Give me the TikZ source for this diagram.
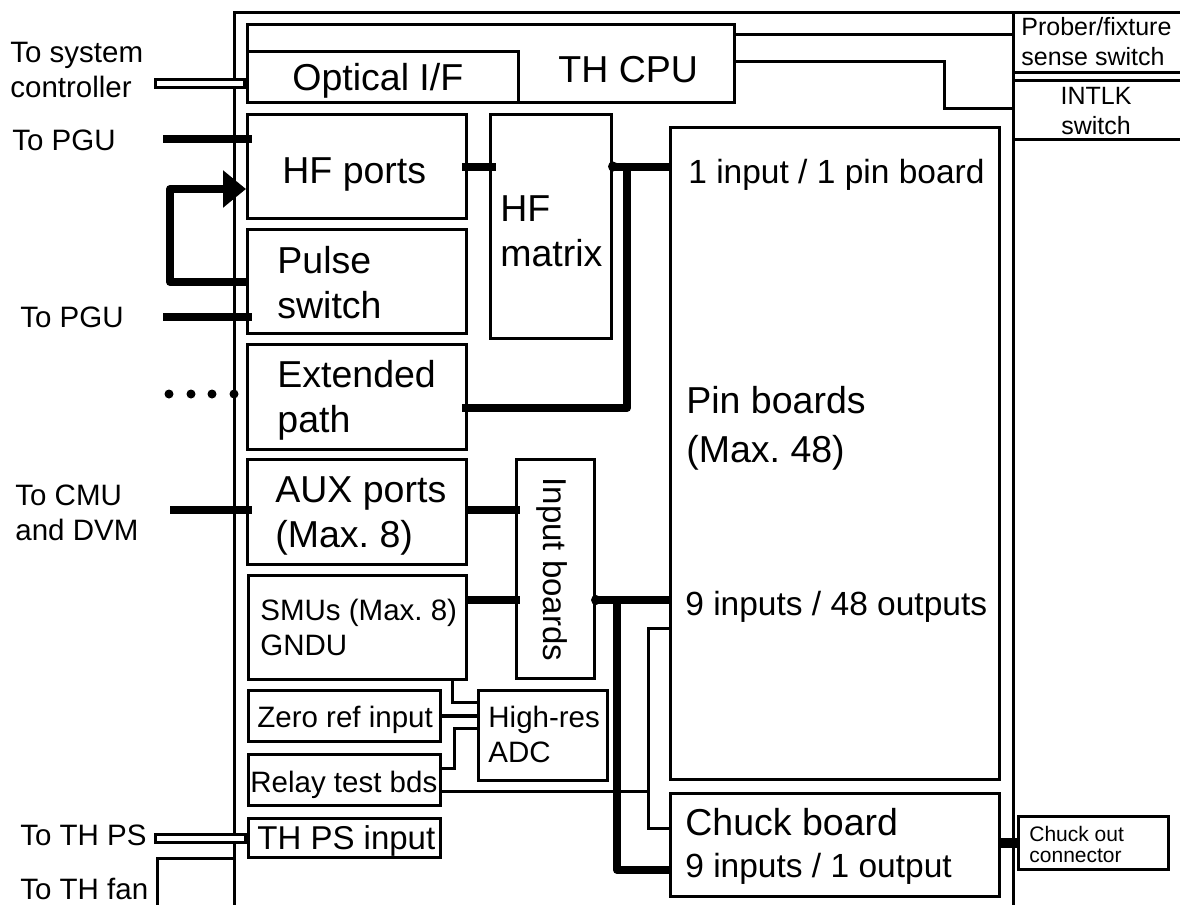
\documentclass[tikz,border=0pt]{standalone}
\usepackage{fontspec}
\setmainfont{Liberation Sans}
\usetikzlibrary{arrows.meta, calc}
\frenchspacing
\newcommand{\fbig}{\fontsize{18.75}{22.5}\selectfont}
\newcommand{\fpin}{\fontsize{16.75}{20}\selectfont}
\newcommand{\fmed}{\fontsize{14.75}{17.5}\selectfont}
\newcommand{\fsml}{\fontsize{12.5}{15}\selectfont}
\newcommand{\ftny}{\fontsize{10.5}{10.5}\selectfont}

\begin{document}
\begin{tikzpicture}[x=0.5pt,y=-0.5pt,>=Stealth,
    box/.style 2 args={draw,line width=1.5pt,inner sep=0pt,anchor=north west,
      minimum width=#1*0.5pt,minimum height=#2*0.5pt},
    hol/.style={draw,fill=white,line width=1.5pt,inner sep=0pt,anchor=east,
      minimum height=4pt},
    thk/.style={line width=4pt,line join=round},
    thn/.style={line width=1.5pt},
    txt/.style={inner sep=0pt,anchor=base west},
    txtm/.style={inner sep=0pt,anchor=north west,align=left}]
  \useasboundingbox (0,0) rectangle (1180,905);

  % test head frame, runs off the bottom
  \node[box={779}{930}] (frame) at (233,11) {};
  \node[box={172}{60}] (prober) at (1012,11) {};
  \node[box={172}{59}] (intlk) at (1012,79) {};

  % blocks
  \node[box={487}{78}] (thcpu) at (246,23) {};
  \node[box={271}{51}] (optical) at (246,50) {};
  \node[box={219}{104}] (hfports) at (246,113) {};
  \node[box={219}{104}] (pulse) at (246,228) {};
  \node[box={121}{224}] (hfmatrix) at (489,113) {};
  \node[box={219}{105}] (extpath) at (246,343) {};
  \node[box={219}{105}] (aux) at (246,458) {};
  \node[box={78}{219}] (inputb) at (515,458) {};
  \node[box={218}{104}] (smus) at (247,574) {};
  \node[box={192}{51}] (zeroref) at (247,689) {};
  \node[box={129}{90}] (adc) at (477,689) {};
  \node[box={192}{51}] (relay) at (247,753) {};
  \node[box={192}{39}] (thps) at (247,817) {};
  \node[box={329}{652}] (pinb) at (669,126) {};
  \node[box={329}{103}] (chuck) at (669,792) {};
  \node[box={150}{53}] (chuckout) at (1017,815) {};

  % hollow cables
  \node[hol,minimum width=44.5pt] (sysbar) at ($(optical.west)+(0,6)$) {};
  \node[hol,minimum width=45pt] (psbar) at (thps.west) {};

  % free ends
  \coordinate (pgua) at (163,139);
  \coordinate (pgub) at (163,317);
  \coordinate (cmu) at (170,510);
  \coordinate (fan) at (157,915);
  \coordinate (tap) at (648,791);

  % HF paths
  \draw[thk,shorten >=-3pt] (pgua) -- (pgua -| hfports.west);
  \draw[thk,shorten >=-3pt] (pgub) -- (pgub -| pulse.west);
  \draw[thk,-{Triangle[length=11.5pt,width=18pt]}]
    (pulse.west |- 0,282) -- ++(-76,0) |- (hfports.west |- 0,189);
  \draw[thk,shorten <=-3pt,shorten >=-3.5pt]
    (hfports.east) -- (hfports.east -| hfmatrix.west);
  \coordinate (hfm) at (hfmatrix.east |- hfports.east);
  \fill (hfm) circle (2.5pt);
  \draw[thk] (hfm) -- (hfm -| pinb.west);
  \draw[thk,shorten >=-3pt] (hfm -| 627,0) |- (extpath.east |- 0,408);
  \foreach \dx in {169,191,212,234}
    \fill (\dx,394) circle (2.25pt);

  % DC paths
  \draw[thk,shorten >=-3pt] (cmu) -- (cmu -| aux.west);
  \draw[thk,shorten >=-2.5pt] (aux.east |- 0,510) -- (inputb.west |- 0,510);
  \draw[thk,shorten >=-2.5pt] (smus.east |- 0,600) -- (inputb.west |- 0,600);
  \coordinate (ib) at (inputb.east |- 0,600);
  \fill (ib) circle (2.5pt);
  \draw[thk] (ib) -- (ib -| pinb.west);
  \draw[thk] (ib -| 617,0) |- (chuck.west |- 0,870);
  \draw[line width=5pt] (chuck.east |- chuckout.west) -- (chuckout.west);

  % thin wiring
  \draw[thn] (smus.south -| 452,0) |- (adc.west |- 0,702);
  \draw[line width=2pt] (zeroref.east) -- (zeroref.east -| adc.west);
  \draw[thn] (relay.east |- 0,768) -| (454,728) -- (adc.west |- 0,728);
  \draw[thn] (relay.east |- tap) -- (tap);
  \draw[thn] (pinb.west |- 0,628) -| (tap) |- (chuck.west |- 0,828);
  \draw[thn] (thcpu.east |- 0,34) -- (prober.west |- 0,34);
  \draw[thn] (thcpu.east |- 0,61) -| (944,108) -- (intlk.west |- 0,108);
  \draw[thn] (fan) |- (frame.west |- 0,858);

  % outside labels
  \node[txtm,font=\fmed] (tsys) at (10,42) {To system\\controller};
  \node[txt,font=\fmed] (tpgua) at (12,150) {To PGU};
  \node[txt,font=\fmed] (tpgub) at (20,327) {To PGU};
  \node[txtm,font=\fmed] (tcmu) at (15,484) {To CMU\\and DVM};
  \node[txt,font=\fmed] (tps) at (20,845) {To TH PS};
  \node[txt,font=\fmed] (tfan) at (20,899) {To TH fan};
  \node[txtm,font=\fsml] (tprober) at (1021,17) {Prober/fixture\\sense switch};
  \node[inner sep=0pt,anchor=north,align=center,font=\fsml] (tintlk)
    at (1096,87) {INTLK\\switch};

  % block labels
  \node[txt,font=\fbig] (tthcpu) at (558,82) {TH CPU};
  \node[txt,font=\fbig] (toptical) at (292,90) {Optical I/F};
  \node[txt,font=\fbig] (thfports) at (282,183) {HF ports};
  \node[txtm,font=\fbig] (tpulse) at (277,246) {Pulse\\switch};
  \node[txtm,font=\fbig] (thfmatrix) at (500,195) {HF\\matrix};
  \node[txtm,font=\fbig] (textpath) at (277,360) {Extended\\path};
  \node[txtm,font=\fbig] (taux) at (275,476) {AUX ports\\(Max. 8)};
  \node[inner sep=0pt,anchor=base,rotate=-90,font=\fontsize{16.5}{20}\selectfont]
    (tinputb) at (543,569.5) {Input boards};
  \node[txtm,font=\fmed] (tsmus) at (260,599) {SMUs (Max. 8)\\GNDU};
  \node[txt,font=\fmed] (tzeroref) at (257,727) {Zero ref input};
  \node[txtm,font=\fmed] (tadc) at (488,706) {High-res\\ADC};
  \node[txt,font=\fmed] (trelay) at (250,792) {Relay test bds};
  \node[txt,font=\fontsize{16.5}{20}\selectfont] (tthps) at (257,849) {TH PS input};
  \node[txt,font=\fpin] (tpina) at (688,183) {1 input / 1 pin board};
  \node[txtm,font=\fontsize{18.75}{24.5}\selectfont] (tpinb) at (686,386)
    {Pin boards\\(Max. 48)};
  \node[txt,font=\fpin] (tpinc) at (685,615) {9 inputs / 48 outputs};
  \node[txt,font=\fbig] (tchuck) at (685,835) {Chuck board};
  \node[txt,font=\fpin] (tchuckb) at (685,877) {9 inputs / 1 output};
  \node[txtm,font=\ftny] (tchuckout) at (1029,826) {Chuck out\\connector};
\end{tikzpicture}
\end{document}
